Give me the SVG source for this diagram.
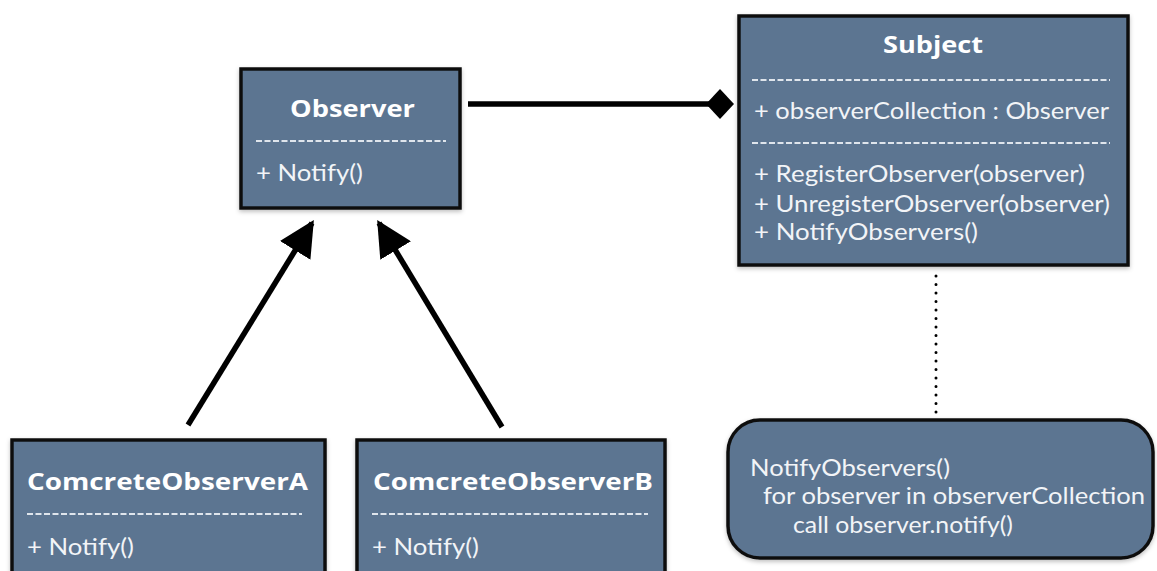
<svg xmlns="http://www.w3.org/2000/svg" width="1157" height="571" viewBox="0 0 1157 571">
  <style>
    .box { fill: #5c7491; stroke: #111; stroke-width: 3.5; }
    .title { font-family: "Open Sans", Lato, sans-serif; font-weight: bold; font-size: 24px; fill: #fff; }
    .member { font-family: Lato, "Open Sans", sans-serif; font-size: 24px; fill: #f2f4f7; }
    .sep { stroke: #dfe5ec; stroke-width: 2; stroke-dasharray: 6 2.5; }
    .edge { stroke: #000; stroke-width: 5.5; fill: none; }
  </style>
  <defs>
    <filter id="shadow" x="-5%" y="-5%" width="110%" height="115%">
      <feDropShadow dx="0" dy="2" stdDeviation="2" flood-color="#000" flood-opacity="0.25"/>
    </filter>
    <marker id="arrow" viewBox="0 0 10 10" refX="9" refY="5" markerWidth="6.5" markerHeight="6.5" markerUnits="strokeWidth" orient="auto">
      <path d="M0,0 L10,5 L0,10 z" fill="#000"/>
    </marker>
  </defs>

  <rect width="1157" height="571" fill="#fff"/>

  <!-- connectors -->
  <g id="connectors">
    <line class="edge" x1="468" y1="104" x2="710" y2="104"/>
    <path d="M706,104 L720,89 L734,104 L720,119 z" fill="#000"/>
    <line class="edge" x1="188" y1="425" x2="312" y2="223" marker-end="url(#arrow)"/>
    <line class="edge" x1="502" y1="427" x2="379" y2="223" marker-end="url(#arrow)"/>
    <line x1="936" y1="276" x2="936" y2="416" stroke="#000" stroke-width="3" stroke-linecap="round" stroke-dasharray="0 8.5"/>
  </g>

  <!-- Observer -->
  <g id="observer">
    <rect class="box" x="241" y="69" width="219" height="139" filter="url(#shadow)"/>
    <text class="title" x="290" y="117" textLength="125" lengthAdjust="spacingAndGlyphs">Observer</text>
    <line class="sep" x1="256" y1="141" x2="446" y2="141"/>
    <text class="member" x="256" y="181" textLength="107" lengthAdjust="spacingAndGlyphs">+ Notify()</text>
  </g>

  <!-- Subject -->
  <g id="subject">
    <rect class="box" x="739" y="16" width="389" height="249" filter="url(#shadow)"/>
    <text class="title" x="883" y="53" textLength="100" lengthAdjust="spacingAndGlyphs">Subject</text>
    <line class="sep" x1="752" y1="80" x2="1110" y2="80"/>
    <text class="member" x="754" y="119" textLength="355" lengthAdjust="spacingAndGlyphs">+ observerCollection : Observer</text>
    <line class="sep" x1="752" y1="143" x2="1110" y2="143"/>
    <text class="member" x="754" y="182" textLength="331" lengthAdjust="spacingAndGlyphs">+ RegisterObserver(observer)</text>
    <text class="member" x="754" y="212" textLength="356" lengthAdjust="spacingAndGlyphs">+ UnregisterObserver(observer)</text>
    <text class="member" x="754" y="240" textLength="224" lengthAdjust="spacingAndGlyphs">+ NotifyObservers()</text>
  </g>

  <!-- ComcreteObserverA -->
  <g id="concrete-a">
    <rect class="box" x="12" y="440" width="313" height="150" filter="url(#shadow)"/>
    <text class="title" x="27" y="490" textLength="281" lengthAdjust="spacingAndGlyphs">ComcreteObserverA</text>
    <line class="sep" x1="27" y1="514" x2="302" y2="514"/>
    <text class="member" x="27" y="555" textLength="107" lengthAdjust="spacingAndGlyphs">+ Notify()</text>
  </g>

  <!-- ComcreteObserverB -->
  <g id="concrete-b">
    <rect class="box" x="357" y="440" width="308" height="150" filter="url(#shadow)"/>
    <text class="title" x="373" y="490" textLength="280" lengthAdjust="spacingAndGlyphs">ComcreteObserverB</text>
    <line class="sep" x1="372" y1="514" x2="648" y2="514"/>
    <text class="member" x="372" y="555" textLength="107" lengthAdjust="spacingAndGlyphs">+ Notify()</text>
  </g>

  <!-- note -->
  <g id="note">
    <rect class="box" x="728" y="420" width="425" height="138" rx="32" ry="32" filter="url(#shadow)"/>
    <text class="member" x="750" y="476" textLength="200" lengthAdjust="spacingAndGlyphs">NotifyObservers()</text>
    <text class="member" x="763" y="504" textLength="382" lengthAdjust="spacingAndGlyphs">for observer in observerCollection</text>
    <text class="member" x="793" y="533" textLength="220" lengthAdjust="spacingAndGlyphs">call observer.notify()</text>
  </g>
</svg>
